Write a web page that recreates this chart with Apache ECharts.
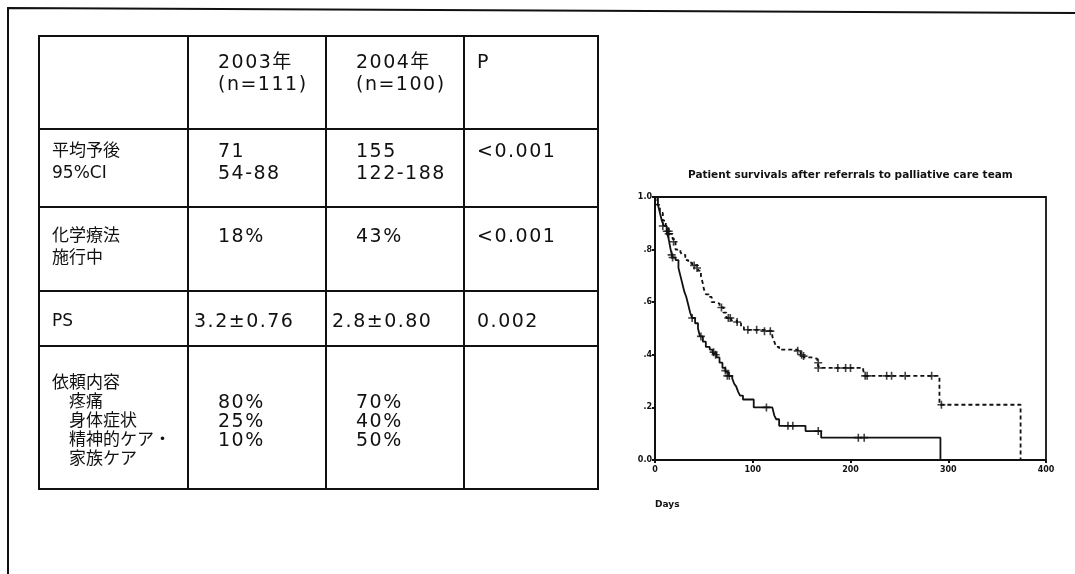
<!DOCTYPE html>
<html>
<head>
<meta charset="utf-8">
<script src="https://cdn.jsdelivr.net/npm/echarts@6/dist/echarts.min.js"></script>
<style>
  html, body { margin: 0; padding: 0; background: #fff; }
  #chart { position: absolute; left: 0; top: 0; width: 1075px; height: 574px; }
  #tbl {
    position: absolute; left: 38px; top: 35px;
    border-collapse: collapse;
    font-family: "DejaVu Sans", "Noto Sans CJK JP", sans-serif;
    font-size: 19px; line-height: 22px; color: #111;
  }
  #tbl td {
    border: 2px solid #111;
    vertical-align: top;
    padding: 16px 2px 0 12px;
    white-space: pre;
    box-sizing: border-box;
  }
  #tbl td.first { font-size: 17px; letter-spacing: 0; }
  #tbl td.num { letter-spacing: 1.5px; padding-left: 29px; }
</style>
</head>
<body>
<div id="chart"></div>
<table id="tbl"></table>
<script>
// table text
const tableHeader = ['', '2003年\n(n=111)', '2004年\n(n=100)', 'P']
const tableRows = [
  ['平均予後\n95%CI', '71\n54-88', '155\n122-188', '<0.001'],
  ['化学療法\n施行中', '18%', '43%', '<0.001'],
  ['PS', '3.2±0.76', '2.8±0.80', '0.002'],
  ['依頼内容\n　疼痛\n　身体症状\n　精神的ケア・\n　家族ケア', '\n80%\n25%\n10%', '\n70%\n40%\n50%', '']
]
const colWidths = [149, 138, 138, 134]
const rowHeights = [93, 78, 84, 55, 143]
const rowPadTop = [13, 9, 16, 17, 26]

// Kaplan-Meier curves: [days, survival]
const surv2003 = [
  [0, 1.0], [3, 0.97], [5, 0.94], [7, 0.91], [9, 0.89], [12, 0.87], [14, 0.84], [16, 0.80],
  [18, 0.77], [21, 0.76], [24, 0.73], [26, 0.70], [28, 0.67], [30, 0.64], [32, 0.62],
  [34, 0.59], [36, 0.56], [38, 0.54], [41, 0.52], [44, 0.50], [46, 0.47], [49, 0.45],
  [52, 0.43], [56, 0.42], [59, 0.405], [63, 0.39], [66, 0.37], [69, 0.35], [72, 0.335],
  [75, 0.32], [79, 0.31], [81, 0.29], [83, 0.28], [85, 0.26], [87, 0.245], [90, 0.23],
  [101, 0.20], [120, 0.195], [122, 0.17], [124, 0.155], [127, 0.13], [154, 0.11],
  [170, 0.085], [292, 0]
]
const censor2003 = [
  [8, 0.89], [12, 0.87], [14, 0.87], [17, 0.78], [18, 0.77], [38, 0.54], [47, 0.47],
  [60, 0.41], [62, 0.40], [72, 0.34], [74, 0.32], [76, 0.32], [114, 0.20], [136, 0.13],
  [141, 0.13], [167, 0.11], [208, 0.085], [214, 0.085]
]
const surv2004 = [
  [0, 1.0], [2, 0.97], [5, 0.94], [8, 0.91], [11, 0.88], [14, 0.86], [18, 0.84], [21, 0.80],
  [26, 0.79], [28, 0.78], [31, 0.76], [34, 0.75], [38, 0.74], [44, 0.72], [47, 0.70],
  [49, 0.67], [50, 0.65], [52, 0.63], [55, 0.62], [58, 0.60], [61, 0.595], [66, 0.58],
  [70, 0.56], [73, 0.54], [78, 0.53], [84, 0.52], [88, 0.505], [91, 0.495], [110, 0.49],
  [120, 0.47], [122, 0.45], [124, 0.43], [127, 0.42], [146, 0.41], [149, 0.40],
  [152, 0.39], [160, 0.385], [166, 0.37], [168, 0.35], [213, 0.34], [215, 0.32],
  [291, 0.21], [374, 0]
]
const censor2004 = [
  [14, 0.86], [19, 0.83], [40, 0.74], [43, 0.73], [68, 0.58], [75, 0.54], [77, 0.54],
  [84, 0.525], [95, 0.495], [104, 0.495], [112, 0.49], [118, 0.49], [146, 0.415],
  [150, 0.40], [152, 0.395], [167, 0.37], [167, 0.35], [187, 0.35], [195, 0.35],
  [200, 0.35], [215, 0.32], [217, 0.32], [237, 0.32], [242, 0.32], [256, 0.32],
  [283, 0.32], [293, 0.21]
]
const yTickLabels = { 0: '0.0', 0.2: '.2', 0.4: '.4', 0.6: '.6', 0.8: '.8', 1: '1.0' }

// build the table
const tbl = document.getElementById('tbl')
;[tableHeader].concat(tableRows).forEach((row, ri) => {
  const tr = document.createElement('tr')
  tr.style.height = rowHeights[ri] + 'px'
  row.forEach((txt, ci) => {
    const td = document.createElement('td')
    td.textContent = txt
    td.style.width = colWidths[ci] + 'px'
    td.style.paddingTop = rowPadTop[ri] + 'px'
    if (ci === 0) td.className = 'first'
    if (ci === 1 || ci === 2) td.className = 'num'
    if (ci === 3) td.style.letterSpacing = '1.5px'
    if (ri === 3 && (ci === 1 || ci === 2)) td.style.paddingLeft = '5px'
    if (ri === 4) td.style.lineHeight = '19px'
    tr.appendChild(td)
  })
  tbl.appendChild(tr)
})

const chart = echarts.init(document.getElementById('chart'))
const plusSymbol = 'path://M4,0h2v4h4v2h-4v4h-2v-4h-4v-2h4z'
const axisFont = { fontFamily: 'DejaVu Sans', fontSize: 8, fontWeight: 'bold', color: '#111' }

chart.setOption({
  animation: false,
  title: {
    text: 'Patient survivals after referrals to palliative care team',
    left: 683, top: 165,
    textStyle: { fontFamily: 'DejaVu Sans', fontSize: 10.5, fontWeight: 'bold', color: '#111' }
  },
  grid: { left: 655, top: 197, width: 391, height: 263 },
  xAxis: {
    type: 'value', min: 0, max: 400, interval: 100,
    axisLine: { lineStyle: { color: '#111', width: 2 } },
    axisTick: { show: true, length: 3, lineStyle: { color: '#111', width: 2 } },
    axisLabel: Object.assign({ margin: 6 }, axisFont),
    splitLine: { show: false }
  },
  yAxis: {
    type: 'value', min: 0, max: 1, interval: 0.2,
    axisLine: { show: true, lineStyle: { color: '#111', width: 2 } },
    axisTick: { show: true, length: 3, lineStyle: { color: '#111', width: 2 } },
    axisLabel: Object.assign({ margin: 3, formatter: v => yTickLabels[Math.round(v * 10) / 10] }, axisFont),
    splitLine: { show: false }
  },
  graphic: [
    {
      type: 'polyline',
      shape: { points: [[8, 574], [8, 8], [1075, 13]] },
      style: { stroke: '#111', lineWidth: 2, fill: null }
    },
    {
      type: 'rect',
      shape: { x: 655, y: 197, width: 391, height: 263 },
      style: { stroke: '#111', lineWidth: 1.8, fill: null }
    },
    {
      type: 'text', left: 655, top: 500,
      style: { text: 'Days', font: 'bold 9px "DejaVu Sans"', fill: '#111' }
    }
  ],
  series: [
    {
      name: '2003', type: 'line', step: 'end', data: surv2003,
      symbol: 'none', lineStyle: { color: '#111', width: 1.8 }
    },
    {
      name: '2004', type: 'line', step: 'end', data: surv2004,
      symbol: 'none', lineStyle: { color: '#111', width: 1.8, type: [4, 3] }
    },
    {
      name: 'censor2003', type: 'scatter', data: censor2003,
      symbol: plusSymbol, symbolSize: 8, itemStyle: { color: '#111' }
    },
    {
      name: 'censor2004', type: 'scatter', data: censor2004,
      symbol: plusSymbol, symbolSize: 8, itemStyle: { color: '#111' }
    }
  ]
})
</script>
</body>
</html>
